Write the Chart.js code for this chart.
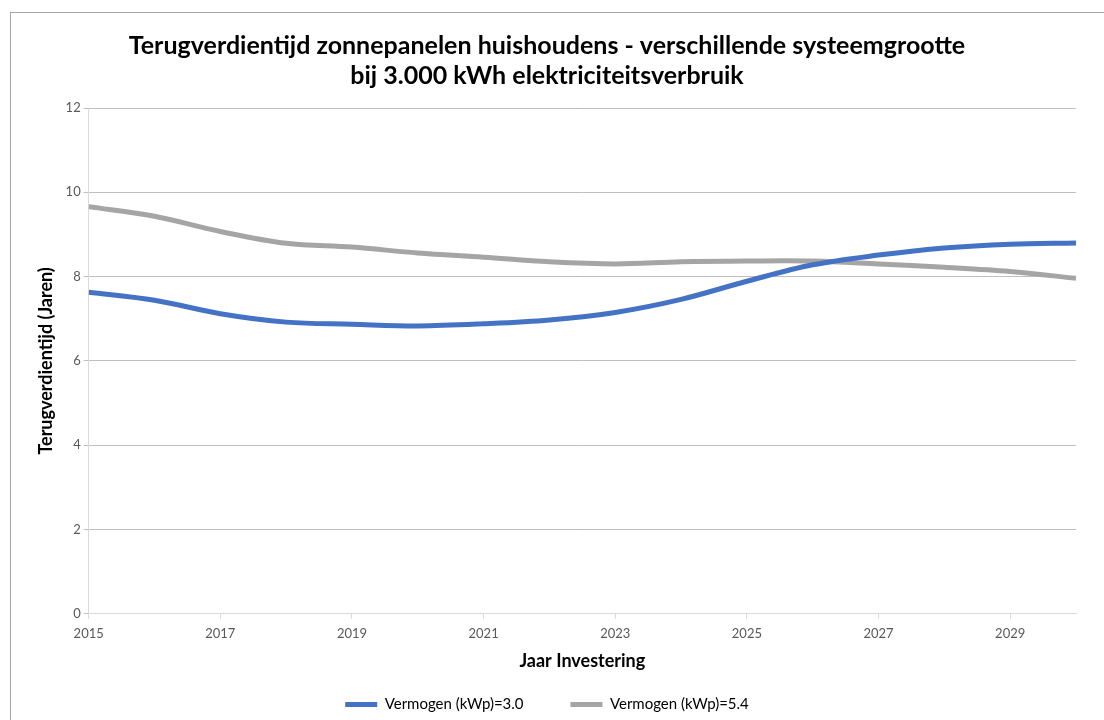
<!DOCTYPE html>
<html>
<head>
<meta charset="utf-8">
<script src="https://cdn.jsdelivr.net/npm/chart.js@4.4.1/dist/chart.umd.min.js"></script>
<style>
  html, body { margin: 0; padding: 0; background: #ffffff; overflow: hidden; }
  #frame {
    position: absolute; left: 10px; top: 12px;
    width: 1110px; height: 720px;
    border: 1px solid #a6a6a6; background: #ffffff;
  }
  #wrap { position: absolute; left: 0; top: 0; width: 1093px; height: 707px; }
</style>
</head>
<body>
<div id="frame"><div id="wrap"><canvas id="lineChart"></canvas></div></div>
<script>
// jaren en terugverdientijd (jaren)
var years = [2015, 2016, 2017, 2018, 2019, 2020, 2021, 2022, 2023, 2024, 2025, 2026, 2027, 2028, 2029, 2030];
var kwp30 = [7.63, 7.44, 7.12, 6.92, 6.87, 6.83, 6.88, 6.97, 7.15, 7.46, 7.89, 8.28, 8.51, 8.68, 8.77, 8.80];
var kwp54 = [9.66, 9.43, 9.07, 8.79, 8.70, 8.56, 8.46, 8.35, 8.30, 8.35, 8.37, 8.37, 8.30, 8.22, 8.12, 7.96];
var xTicks = [2015, 2017, 2019, 2021, 2023, 2025, 2027, 2029];
var yTicks = [0, 2, 4, 6, 8, 10, 12];
var seriesNames = ['Vermogen (kWp)=3.0', 'Vermogen (kWp)=5.4'];

var fontFamily = 'Lato, "Open Sans", sans-serif';

function toPoints(values) {
  return values.map(function (v, i) { return { x: years[i], y: v }; });
}

var chart = new Chart(document.getElementById('lineChart'), {
  type: 'line',
  data: {
    datasets: [
      {
        label: seriesNames[0],
        data: toPoints(kwp30),
        borderColor: '#4472C4',
        backgroundColor: '#4472C4',
        borderWidth: 5,
        pointRadius: 0,
        tension: 0.35
      },
      {
        label: seriesNames[1],
        data: toPoints(kwp54),
        borderColor: '#A5A5A5',
        backgroundColor: '#A5A5A5',
        borderWidth: 5,
        pointRadius: 0,
        tension: 0.35
      }
    ]
  },
  options: {
    responsive: true,
    maintainAspectRatio: false,
    animation: false,
    layout: { padding: { left: 7, right: 28, top: 8, bottom: -2 } },
    plugins: {
      title: {
        display: true,
        text: ['Terugverdientijd zonnepanelen huishoudens - verschillende systeemgrootte', 'bij 3.000 kWh elektriciteitsverbruik'],
        color: '#000000',
        font: { family: fontFamily, size: 25, weight: 'bold', lineHeight: 1.2 },
        padding: { top: 10, bottom: 17 }
      },
      legend: {
        position: 'bottom',
        labels: {
          color: '#000000',
          font: { family: fontFamily, size: 15 },
          boxWidth: 32,
          boxHeight: 5,
          padding: 20,
          generateLabels: function (c) {
            var items = Chart.defaults.plugins.legend.labels.generateLabels(c);
            items.forEach(function (it, i) {
              it.lineWidth = 0;
              // extra ruimte tussen de twee legenda-items
              if (i === 0) it.text = it.text + '       ';
            });
            return items;
          }
        }
      },
      tooltip: { enabled: false }
    },
    scales: {
      x: {
        type: 'linear',
        min: 2015,
        max: 2030,
        afterBuildTicks: function (axis) {
          axis.ticks = xTicks.map(function (v) { return { value: v }; });
        },
        ticks: {
          color: '#595959',
          font: { family: fontFamily, size: 13 },
          maxRotation: 0,
          padding: 7,
          callback: function (v) { return String(v); }
        },
        grid: { drawOnChartArea: false, drawTicks: true, tickLength: 5, color: '#d9d9d9' },
        border: { color: '#d9d9d9', width: 1 },
        title: {
          display: true,
          text: 'Jaar Investering',
          color: '#000000',
          font: { family: fontFamily, size: 18, weight: 'bold' },
          padding: { top: 2, bottom: 5 }
        }
      },
      y: {
        min: 0,
        max: 12,
        afterBuildTicks: function (axis) {
          axis.ticks = yTicks.map(function (v) { return { value: v }; });
        },
        ticks: {
          color: '#595959',
          font: { family: fontFamily, size: 13 },
          padding: 3
        },
        grid: { color: '#bfbfbf', tickLength: 5 },
        border: { color: '#d9d9d9', width: 1 },
        title: {
          display: true,
          text: 'Terugverdientijd (Jaren)',
          color: '#000000',
          font: { family: fontFamily, size: 18, weight: 'bold' },
          padding: { top: 17, bottom: 6 }
        }
      }
    }
  }
});
</script>
</body>
</html>
